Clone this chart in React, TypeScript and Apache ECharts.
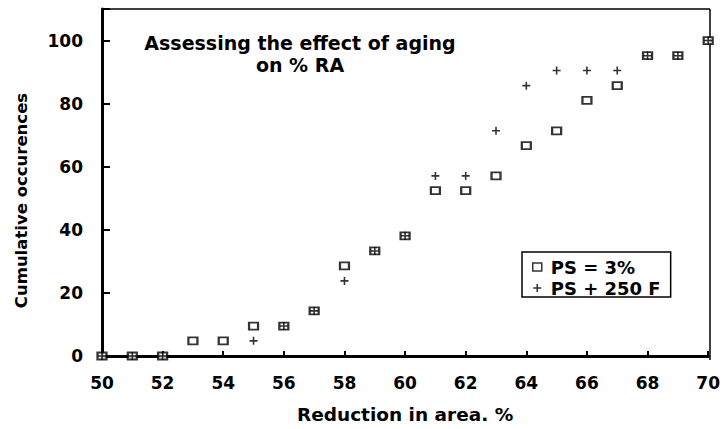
import React, { useEffect, useRef } from "react";
import * as echarts from "echarts";

const xValuesSquare = [50, 51, 52, 53, 54, 55, 56, 57, 58, 59, 60, 61, 62, 63, 64, 65, 66, 67, 68, 69, 70];
const ySquare = [0, 0, 0, 4.8, 4.8, 9.5, 9.5, 14.3, 28.6, 33.3, 38.1, 52.4, 52.4, 57.1, 66.7, 71.4, 81, 85.7, 95.2, 95.2, 100];
const xValuesPlus = [50, 51, 52, 55, 56, 57, 58, 59, 60, 61, 62, 63, 64, 65, 66, 67, 68, 69, 70];
const yPlus = [0, 0, 0, 4.8, 9.5, 14.3, 23.8, 33.3, 38.1, 57.1, 57.1, 71.4, 85.7, 90.5, 90.5, 90.5, 95.2, 95.2, 100];
const seriesNames = ["PS = 3%", "PS + 250 F"];
const titleLines = ["Assessing the effect of aging", "on % RA"];

const FONT = "'DejaVu Sans', Verdana, sans-serif";
const PLUS = "path://M4,0 L6,0 L6,4 L10,4 L10,6 L6,6 L6,10 L4,10 L4,6 L0,6 L0,4 L4,4 Z";

export default function App() {
  const ref = useRef<HTMLDivElement>(null);
  useEffect(() => {
    if (!ref.current) return;
    const chart = echarts.init(ref.current, null, { renderer: "svg" });
    chart.setOption({
      animation: false,
      backgroundColor: "#fff",
      grid: { left: 102, right: 13, top: 9, bottom: 69 },
      title: {
        text: titleLines.join("\n"),
        left: 295,
        top: 27,
        textAlign: "center",
        textStyle: { fontFamily: FONT, fontWeight: "bold", fontSize: 19, color: "#000", lineHeight: 22, align: "center" },
      },
      legend: {
        orient: "vertical",
        left: 522,
        top: 252,
        padding: [6, 10, 0, 10],
        itemGap: 3,
        itemWidth: 9,
        itemHeight: 8,
        borderColor: "#000",
        borderWidth: 1.5,
        backgroundColor: "#fff",
        textStyle: { fontFamily: FONT, fontWeight: "bold", fontSize: 18, color: "#000", padding: [0, 0, 0, 4] },
        data: [
          { name: seriesNames[0], icon: "rect", itemStyle: { color: "#fff", borderColor: "#000", borderWidth: 1.5 } },
          { name: seriesNames[1], icon: PLUS, itemStyle: { color: "#000" } },
        ],
      },
      xAxis: {
        type: "value",
        min: 50,
        max: 70,
        interval: 2,
        name: "Reduction in area. %",
        nameLocation: "middle",
        nameGap: 49,
        nameTextStyle: { fontFamily: FONT, fontWeight: "bold", fontSize: 18.5, color: "#000" },
        axisLine: { lineStyle: { color: "#000", width: 3 } },
        axisTick: { inside: true, length: 5, lineStyle: { color: "#000", width: 2 } },
        axisLabel: { fontFamily: FONT, fontWeight: "bold", fontSize: 17, color: "#000", margin: 18 },
        splitLine: { show: false },
      },
      yAxis: {
        type: "value",
        min: 0,
        max: 110,
        interval: 20,
        name: "Cumulative occurences",
        nameLocation: "middle",
        nameGap: 72,
        nameTextStyle: { fontFamily: FONT, fontWeight: "bold", fontSize: 16.5, color: "#000", padding: [0, 36, 0, 0] },
        axisLine: { lineStyle: { color: "#000", width: 3 } },
        axisTick: { inside: true, length: 8, lineStyle: { color: "#000", width: 2 } },
        axisLabel: {
          fontFamily: FONT, fontWeight: "bold", fontSize: 17, color: "#000", margin: 19,
          formatter: (v: number) => (v % 20 === 0 && v <= 100 ? String(v) : ""),
        },
        splitLine: { show: false },
      },
      graphic: [
        { type: "line", shape: { x1: 102, y1: 9, x2: 710, y2: 9 }, style: { stroke: "#000", lineWidth: 1.5 } },
        { type: "line", shape: { x1: 710, y1: 9, x2: 710, y2: 360 }, style: { stroke: "#000", lineWidth: 1.5 } },
      ],
      series: [
        {
          name: seriesNames[0],
          type: "scatter",
          data: xValuesSquare.map((x, i) => [x, ySquare[i]]),
          symbol: "rect",
          symbolSize: [9, 7],
          itemStyle: { color: "#fff", borderColor: "#000", borderWidth: 2 },
          z: 3,
        },
        {
          name: seriesNames[1],
          type: "scatter",
          data: xValuesPlus.map((x, i) => [x, yPlus[i]]),
          symbol: PLUS,
          symbolSize: 8,
          itemStyle: { color: "#000" },
          z: 4,
        },
      ],
    });
    return () => chart.dispose();
  }, []);
  return <div ref={ref} style={{ width: 723, height: 429, position: "absolute", left: 0, top: 0 }} />;
}
